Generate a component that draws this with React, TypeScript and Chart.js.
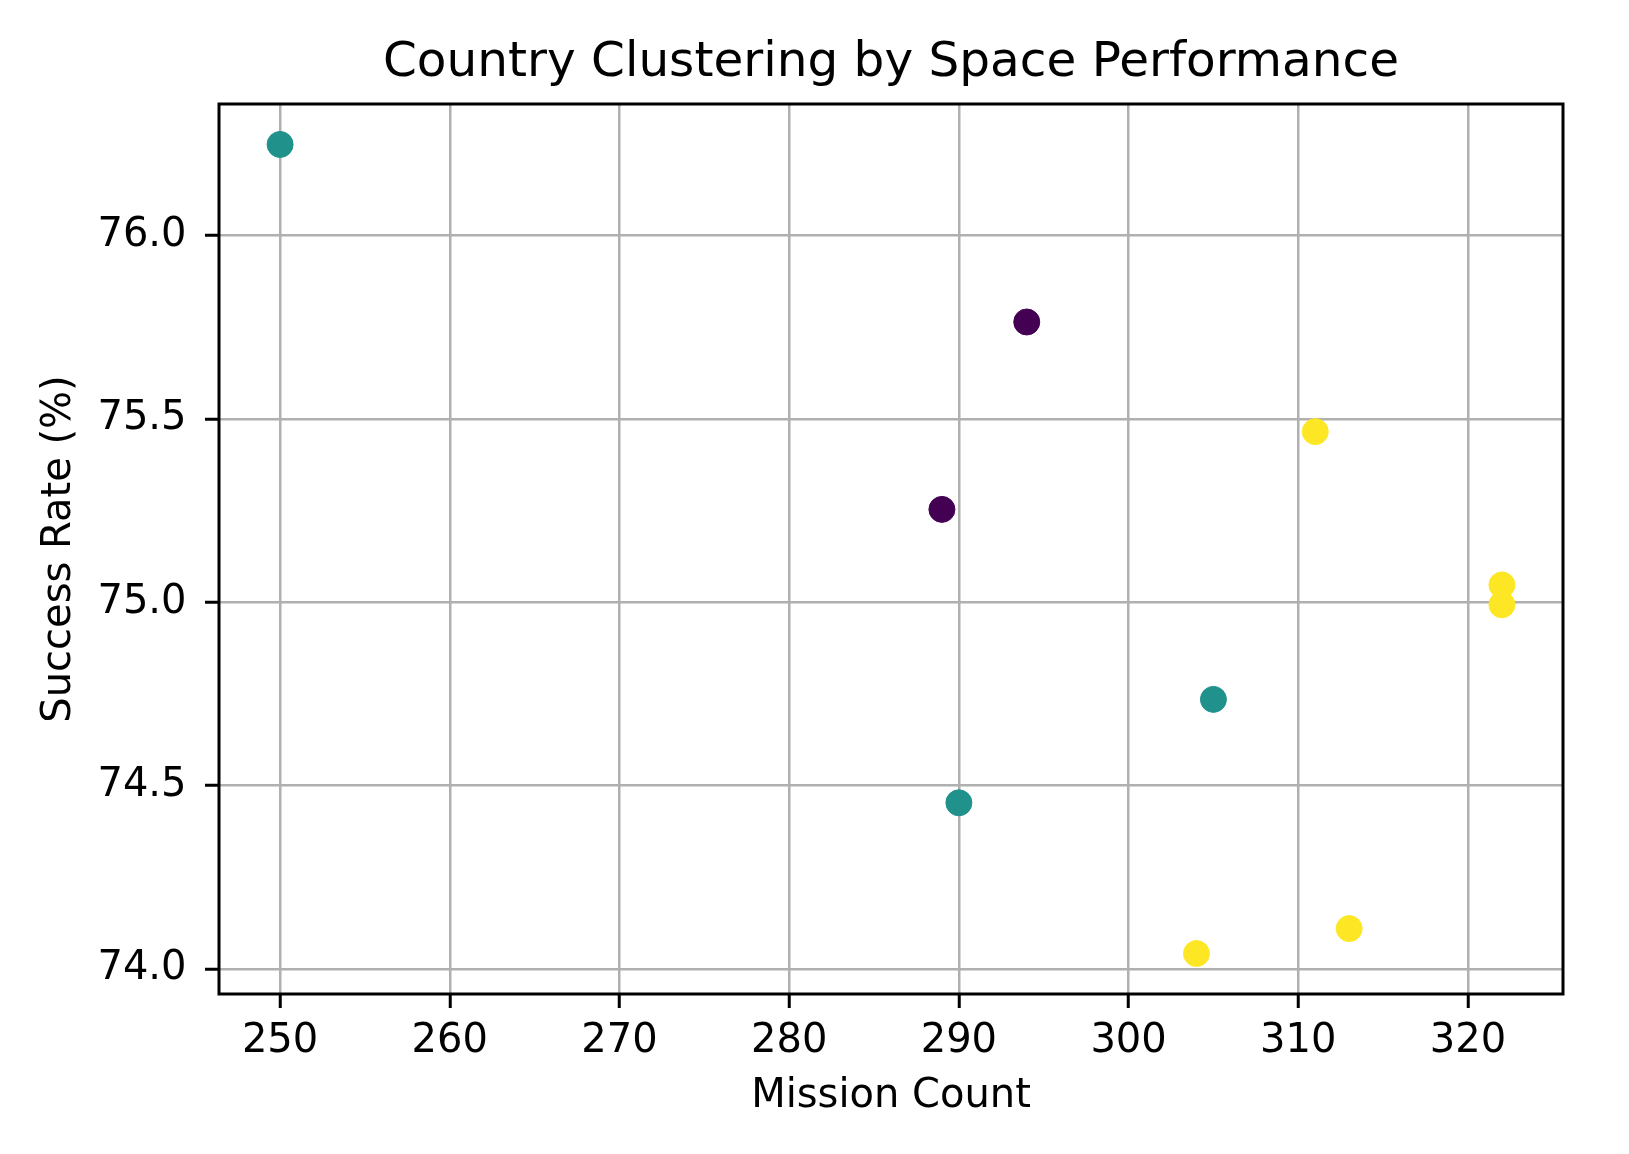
import React, { useEffect, useRef } from 'react';
import { Chart, registerables } from 'chart.js';

Chart.register(...registerables);

// ---- data ----
const missionCounts = [250, 294, 311, 289, 322, 322, 305, 290, 313, 304];
const successRates = [76.248, 75.764, 75.465, 75.253, 75.047, 74.993, 74.735, 74.453, 74.11, 74.042];
const clusterIds = [1, 0, 2, 0, 2, 2, 1, 1, 2, 2];
const clusterColors = ['#440154', '#21918c', '#fde725'];
const xTickValues = [250, 260, 270, 280, 290, 300, 310, 320];
const yTickValues = [74.0, 74.5, 75.0, 75.5, 76.0];

const titleText = 'Country Clustering by Space Performance';
const xLabel = 'Mission Count';
const yLabel = 'Success Rate (%)';

const FONT = "'DejaVu Sans', 'Liberation Sans', sans-serif";

function paddedRange(values: number[], frac = 0.05): [number, number] {
  const lo = Math.min(...values);
  const hi = Math.max(...values);
  const m = (hi - lo) * frac;
  return [lo - m, hi + m];
}

const framePlugin = {
  id: 'frame',
  afterDraw(chart: any) {
    const { ctx, chartArea } = chart;
    ctx.save();
    ctx.strokeStyle = '#000';
    ctx.lineWidth = 3;
    ctx.strokeRect(chartArea.left, chartArea.top, chartArea.right - chartArea.left, chartArea.bottom - chartArea.top);
    ctx.restore();
  },
};

export default function App() {
  const ref = useRef<HTMLCanvasElement | null>(null);

  useEffect(() => {
    document.body.style.margin = '0';
    const canvas = ref.current;
    if (!canvas) return;
    const [xMin, xMax] = paddedRange(missionCounts);
    const [yMin, yMax] = paddedRange(successRates);
    const points = missionCounts.map((x, i) => ({ x, y: successRates[i] }));
    const colors = clusterIds.map((c) => clusterColors[c]);

    const chart = new Chart(canvas, {
      type: 'scatter',
      data: {
        datasets: [
          {
            data: points,
            backgroundColor: colors,
            borderColor: colors,
            borderWidth: 1,
            pointRadius: 13,
            pointHoverRadius: 13,
          },
        ],
      },
      plugins: [framePlugin],
      options: {
        responsive: false,
        animation: false,
        events: [],
        layout: { padding: { left: 0, right: 66, top: 0, bottom: 0 } },
        plugins: {
          legend: { display: false },
          tooltip: { enabled: false },
          title: {
            display: true,
            text: titleText,
            fullSize: false,
            color: '#000',
            font: { family: FONT, size: 48.5, weight: 'normal' },
            padding: { top: 34.8, bottom: 11 },
          },
        },
        scales: {
          x: {
            type: 'linear',
            position: 'bottom',
            min: xMin,
            max: xMax,
            z: 1,
            afterBuildTicks: (s: any) => {
              s.ticks = xTickValues.map((v) => ({ value: v }));
            },
            afterFit: (s: any) => {
              s.height = 160;
            },
            border: { display: false },
            grid: {
              color: '#b0b0b0',
              lineWidth: 2.5,
              drawTicks: true,
              tickLength: 14,
              tickColor: '#000',
              tickWidth: 3,
            },
            ticks: {
              color: '#000',
              font: { family: FONT, size: 40 },
              padding: 9.4,
              maxRotation: 0,
              autoSkip: false,
              callback: (v: any) => String(v),
            },
            title: {
              display: true,
              text: xLabel,
              color: '#000',
              font: { family: FONT, size: 40 },
              padding: { top: 0, bottom: 33.6 },
            },
          },
          y: {
            type: 'linear',
            position: 'left',
            min: yMin,
            max: yMax,
            z: 1,
            afterBuildTicks: (s: any) => {
              s.ticks = yTickValues.map((v) => ({ value: v }));
            },
            afterFit: (s: any) => {
              s.width = 219;
            },
            border: { display: false },
            grid: {
              color: '#b0b0b0',
              lineWidth: 2.5,
              drawTicks: true,
              tickLength: 14,
              tickColor: '#000',
              tickWidth: 3,
            },
            ticks: {
              color: '#000',
              font: { family: FONT, size: 40 },
              padding: 18.5,
              autoSkip: false,
              callback: (v: any) => Number(v).toFixed(1),
            },
            title: {
              display: true,
              text: yLabel,
              color: '#000',
              font: { family: FONT, size: 40 },
              padding: { top: 35.8, bottom: 0 },
            },
          },
        },
      },
    } as any);

    return () => chart.destroy();
  }, []);

  return (
    <div style={{ width: 1629, height: 1154, background: '#fff' }}>
      <canvas ref={ref} width={1629} height={1154} style={{ width: 1629, height: 1154, display: 'block' }} />
    </div>
  );
}
